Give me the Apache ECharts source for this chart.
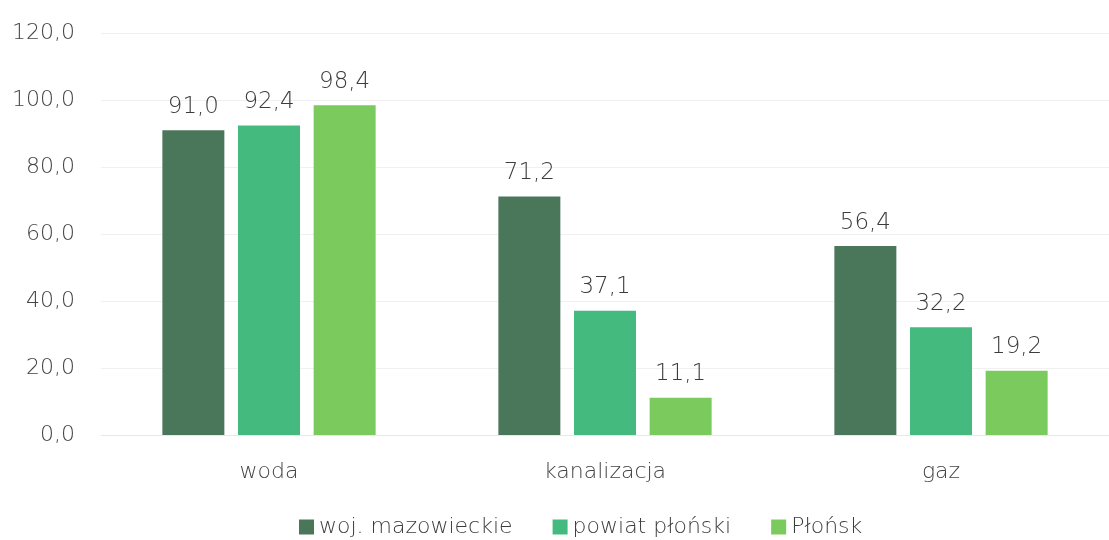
<!DOCTYPE html>
<html>
<head>
<meta charset="utf-8">
<script src="https://cdn.jsdelivr.net/npm/echarts@6/dist/echarts.min.js"></script>
<style>
html,body{margin:0;padding:0;background:#fff;}
#chart{width:1109px;height:540px;}
</style>
</head>
<body>
<div id="chart"></div>
<script>
var categories = ['woda', 'kanalizacja', 'gaz'];
var seriesNames = ['woj. mazowieckie', 'powiat płoński', 'Płońsk'];
var mazowieckie = [91.0, 71.2, 56.4];
var powiat = [92.4, 37.1, 32.2];
var plonsk = [98.4, 11.1, 19.2];
var colors = ['#4a765a', '#45ba7f', '#7bca5d'];

var fontName = 'DejaVu Sans';

function fmt(v) {
	return Number(v).toFixed(1).replace('.', ',');
}

function makeSeries(name, data, color) {
	return {
		name: name,
		type: 'bar',
		data: data,
		barWidth: 62,
		barGap: '22%',
		itemStyle: { color: color },
		label: {
			show: true,
			position: 'top',
			distance: 12,
			color: '#3c3c3c',
			fontSize: 23,
			fontWeight: 200,
			fontFamily: fontName,
			formatter: function (p) { return fmt(p.value); }
		}
	};
}

var option = {
	animation: false,
	backgroundColor: '#fff',
	grid: {
		left: 101,
		right: -10,
		top: 33,
		bottom: 105
	},
	legend: {
		bottom: -3,
		left: 294,
		itemWidth: 15,
		itemHeight: 15,
		itemGap: 40,
		icon: 'rect',
		textStyle: {
			color: '#3c3c3c',
			fontSize: 22,
			fontWeight: 200,
			fontFamily: fontName
		},
		data: seriesNames
	},
	xAxis: {
		type: 'category',
		data: categories,
		axisLine: { show: true, lineStyle: { color: '#e8e8e8' } },
		axisTick: { show: false },
		axisLabel: {
			color: '#444',
			fontSize: 22,
			fontWeight: 200,
			fontFamily: fontName,
			margin: 26
		}
	},
	yAxis: {
		type: 'value',
		min: 0,
		max: 120,
		interval: 20,
		axisLine: { show: false },
		axisTick: { show: false },
		splitLine: { lineStyle: { color: '#f0f0f0' } },
		axisLabel: {
			color: '#444',
			fontSize: 22,
			fontWeight: 200,
			fontFamily: fontName,
			margin: 26,
			formatter: function (v) { return fmt(v); }
		}
	},
	series: [
		makeSeries(seriesNames[0], mazowieckie, colors[0]),
		makeSeries(seriesNames[1], powiat, colors[1]),
		makeSeries(seriesNames[2], plonsk, colors[2])
	]
};

var myChart = echarts.init(document.getElementById('chart'));
myChart.setOption(option, true);
</script>
</body>
</html>
